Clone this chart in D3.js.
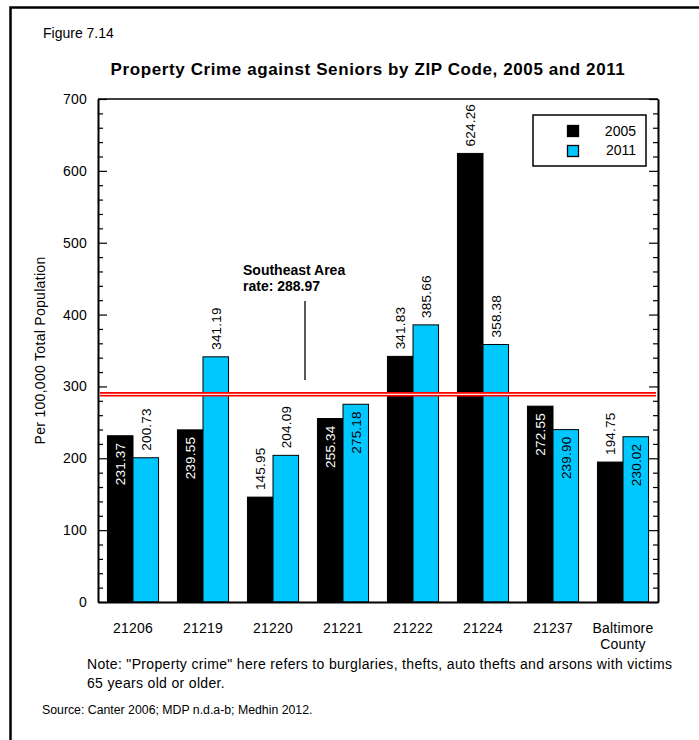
<!DOCTYPE html>
<html>
<head>
<meta charset="utf-8">
<script src="https://cdn.jsdelivr.net/npm/d3@7"></script>
<style>
  body { margin: 0; background: #fff; }
  svg { display: block; font-family: "Liberation Sans", Arial, sans-serif; }
  .axis path, .axis line { stroke: #000; }
  .axis text { font-size: 14px; fill: #000; letter-spacing: 0.2px; }
</style>
</head>
<body>
<div id="chart"></div>
<script>
// chart data
const categories = ["21206", "21219", "21220", "21221", "21222", "21224", "21237", "Baltimore County"];
const seriesNames = ["2005", "2011"];
const values2005 = [231.37, 239.55, 145.95, 255.34, 341.83, 624.26, 272.55, 194.75];
const values2011 = [200.73, 341.19, 204.09, 275.18, 385.66, 358.38, 239.90, 230.02];
// label sits inside the bar end (true) or above it (false)
const inside2005 = [true, true, false, true, false, false, true, false];
const inside2011 = [false, false, false, true, false, false, true, true];
const yTicks = [0, 100, 200, 300, 400, 500, 600, 700];
const southeastRate = 288.97;

const seriesColors = {"2005": "#000000", "2011": "#00c8ff"};

const width = 699, height = 740;
const margin = {top: 99, right: 41, bottom: 138, left: 98};

const svg = d3.select("#chart").append("svg")
  .attr("width", width)
  .attr("height", height);

// outer frame (runs off the page on the right and bottom)
svg.append("rect")
  .attr("x", 10.5).attr("y", 7.5)
  .attr("width", 720).attr("height", 760)
  .attr("fill", "none").attr("stroke", "#000").attr("stroke-width", 2.5);

svg.append("text")
  .attr("x", 43).attr("y", 38)
  .attr("font-size", 14)
  .text("Figure 7.14");

svg.append("text")
  .attr("x", 368).attr("y", 75)
  .attr("text-anchor", "middle")
  .attr("font-size", 17).attr("font-weight", "bold")
  .attr("letter-spacing", 0.6)
  .text("Property Crime against Seniors by ZIP Code, 2005 and 2011");

// scales
const x0 = d3.scaleBand()
  .domain(categories)
  .range([margin.left, width - margin.right])
  .paddingInner(0.27)
  .paddingOuter(0.135);

const x1 = d3.scaleBand()
  .domain(seriesNames)
  .range([0, x0.bandwidth()]);

const y = d3.scaleLinear()
  .domain([0, 700])
  .range([height - margin.bottom, margin.top]);

const rows = categories.map(function(c, i) {
  return {
    cat: c,
    bars: [
      {series: "2005", value: values2005[i], inside: inside2005[i]},
      {series: "2011", value: values2011[i], inside: inside2011[i]}
    ]
  };
});

// bars
const groups = svg.append("g").selectAll("g")
  .data(rows).enter()
  .append("g")
  .attr("transform", function(d) { return "translate(" + x0(d.cat) + ",0)"; });

groups.selectAll("rect")
  .data(function(d) { return d.bars; }).enter()
  .append("rect")
  .attr("x", function(d) { return x1(d.series); })
  .attr("y", function(d) { return y(d.value); })
  .attr("width", x1.bandwidth())
  .attr("height", function(d) { return y(0) - y(d.value); })
  .attr("fill", function(d) { return seriesColors[d.series]; })
  .attr("stroke", "#000").attr("stroke-width", 1);

// value labels, rotated
groups.selectAll("text")
  .data(function(d) { return d.bars; }).enter()
  .append("text")
  .attr("transform", function(d) {
    const cx = x1(d.series) + x1.bandwidth() / 2;
    const ty = d.inside ? y(d.value) + 7 : y(d.value) - 7;
    return "translate(" + cx + "," + ty + ") rotate(-90)";
  })
  .attr("text-anchor", function(d) { return d.inside ? "end" : "start"; })
  .attr("dy", "0.35em")
  .attr("font-size", 13.5)
  .attr("letter-spacing", 0.2)
  .attr("fill", function(d) { return (d.inside && d.series === "2005") ? "#fff" : "#000"; })
  .text(function(d) { return d3.format(".2f")(d.value); });

// southeast area reference line
const refY = y(southeastRate);
svg.append("line")
  .attr("x1", margin.left + 2).attr("x2", width - margin.right - 2)
  .attr("y1", refY).attr("y2", refY)
  .attr("stroke", "#ff0000").attr("stroke-width", 4.5);
svg.append("line")
  .attr("x1", margin.left + 2).attr("x2", width - margin.right - 2)
  .attr("y1", refY).attr("y2", refY)
  .attr("stroke", "#ffe0e0").attr("stroke-width", 1.3);

svg.append("text")
  .attr("x", 243).attr("y", 275)
  .attr("font-size", 14).attr("font-weight", "bold")
  .text("Southeast Area");
svg.append("text")
  .attr("x", 243).attr("y", 291)
  .attr("font-size", 14).attr("font-weight", "bold")
  .text("rate: " + d3.format(".2f")(southeastRate));
svg.append("line")
  .attr("x1", 305).attr("x2", 305)
  .attr("y1", 301).attr("y2", 380)
  .attr("stroke", "#000").attr("stroke-width", 1.3);

// axes
const minorTicks = d3.range(0, 701, 20).filter(function(v) { return v % 100 !== 0; });

svg.append("g").attr("class", "axis")
  .attr("transform", "translate(" + margin.left + ",0)")
  .call(d3.axisLeft(y).tickValues(yTicks).tickSize(-9).tickPadding(11).tickSizeOuter(0));
svg.append("g").attr("class", "axis")
  .attr("transform", "translate(" + margin.left + ",0)")
  .call(d3.axisLeft(y).tickValues(minorTicks).tickSize(-5).tickFormat("").tickSizeOuter(0));

svg.append("g").attr("class", "axis")
  .attr("transform", "translate(" + (width - margin.right) + ",0)")
  .call(d3.axisRight(y).tickValues(yTicks).tickSize(-9).tickFormat("").tickSizeOuter(0));
svg.append("g").attr("class", "axis")
  .attr("transform", "translate(" + (width - margin.right) + ",0)")
  .call(d3.axisRight(y).tickValues(minorTicks).tickSize(-5).tickFormat("").tickSizeOuter(0));

svg.selectAll(".axis path").attr("stroke-width", 1.6);
svg.selectAll(".axis line").attr("stroke-width", 1.2);

// top border and bottom axis
svg.append("line")
  .attr("x1", margin.left).attr("x2", width - margin.right)
  .attr("y1", y(700)).attr("y2", y(700))
  .attr("stroke", "#000").attr("stroke-width", 1.6);

const xAxisG = svg.append("g").attr("class", "axis")
  .attr("transform", "translate(0," + y(0) + ")")
  .call(d3.axisBottom(x0).tickSize(0).tickPadding(21).tickSizeOuter(0));
xAxisG.select("path").attr("stroke-width", 2);

xAxisG.selectAll(".tick text").each(function(d) {
  const words = d.split(" ");
  if (words.length < 2) return;
  const t = d3.select(this).text(null);
  words.forEach(function(w, i) {
    t.append("tspan")
      .attr("x", 0)
      .attr("dy", i === 0 ? "0.71em" : "1.12em")
      .text(w);
  });
  t.attr("dy", null);
});

// y axis title
svg.append("text")
  .attr("transform", "translate(45," + ((y(0) + y(700)) / 2) + ") rotate(-90)")
  .attr("text-anchor", "middle")
  .attr("font-size", 14).attr("letter-spacing", 0.3)
  .text("Per 100,000 Total Population");

// legend
const legend = svg.append("g").attr("transform", "translate(533,115)");
legend.append("rect")
  .attr("width", 113).attr("height", 51)
  .attr("fill", "#fff").attr("stroke", "#000").attr("stroke-width", 1.5);
seriesNames.forEach(function(s, i) {
  legend.append("rect")
    .attr("x", 34.5).attr("y", 10.5 + i * 20)
    .attr("width", 11).attr("height", 11)
    .attr("fill", seriesColors[s]).attr("stroke", "#000").attr("stroke-width", 1.3);
  legend.append("text")
    .attr("x", 103).attr("y", 21 + i * 19)
    .attr("text-anchor", "end")
    .attr("font-size", 14)
    .text(s);
});

// notes
svg.append("text")
  .attr("x", 87).attr("y", 669)
  .attr("font-size", 14).attr("letter-spacing", 0.33)
  .text("Note: \"Property crime\" here refers to burglaries, thefts, auto thefts and arsons with victims");
svg.append("text")
  .attr("x", 87).attr("y", 688)
  .attr("font-size", 14).attr("letter-spacing", 0.33)
  .text("65 years old or older.");
svg.append("text")
  .attr("x", 42).attr("y", 714)
  .attr("font-size", 12.3)
  .text("Source: Canter 2006; MDP n.d.a-b; Medhin 2012.");
</script>
</body>
</html>
